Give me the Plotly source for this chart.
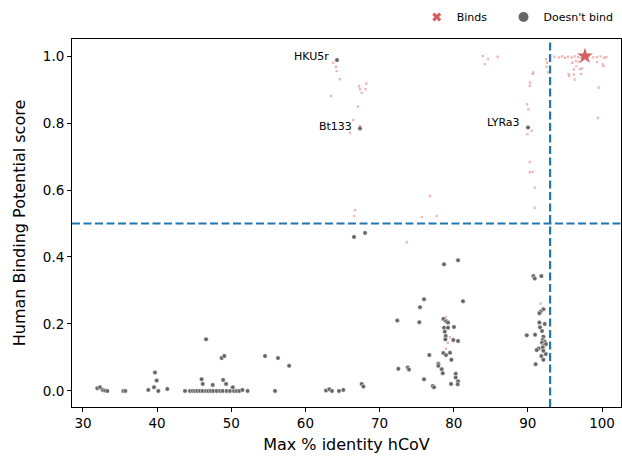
import plotly.graph_objects as go

# values
# "Doesn't bind" points (grey)
nobind_x = [31.93, 32.29, 32.66, 32.97, 33.28, 35.44, 35.71, 38.81, 39.58, 39.71,
            39.94, 40.16, 41.37, 43.76, 44.43, 44.80, 45.11, 45.42, 45.78, 46.14,
            46.59, 46.90, 47.22, 47.57, 48.03, 48.48, 48.84, 49.38, 49.83, 50.37,
            50.73, 51.08, 46.0, 46.15, 46.6, 47.5, 48.9, 49.3, 50.2, 48.7,
            49.06, 51.5, 52.2, 54.55, 55.9, 56.3, 57.8,
            62.78, 63.22, 63.58, 64.53, 65.11, 67.59, 67.81, 72.39, 72.53, 73.8,
            73.97, 75.36, 75.45, 75.99, 75.99, 76.71, 77.17, 77.34, 77.92, 77.92,
            78.38, 78.52, 78.69, 78.6, 78.96, 79.23, 78.69, 79.23, 80.04, 78.79,
            78.92, 78.87, 79.95, 80.58, 78.6, 78.96, 79.5, 79.68, 80.27, 80.27,
            79.64, 80.58, 80.54, 80.58, 81.25,
            90.74, 90.93, 91.82, 92.09, 91.73, 91.55, 91.55, 92.27, 91.64, 91.91,
            89.85, 90.97, 92.09, 92.0, 92.27, 91.91, 92.18, 92.45, 92.0, 91.46,
            91.19, 92.09, 92.41, 91.82, 92.09, 91.05,
            66.55, 68.04, 64.26, 67.36, 90.02]
nobind_y = [0.008, 0.011, 0.003, 0.001, 0.0, 0.0, 0.0, 0.003, 0.011, 0.055,
            0.031, 0.0, 0.006, 0.0, 0.0, 0.0, 0.0, 0.0, 0.0, 0.0,
            0.0, 0.0, 0.0, 0.0, 0.0, 0.0, 0.0, 0.0, 0.0, 0.0,
            0.0, 0.0, 0.035, 0.021, 0.154, 0.018, 0.033, 0.021, 0.011, 0.098,
            0.104, 0.003, 0.0, 0.104, 0.0, 0.098, 0.075,
            0.001, 0.005, 0.0, 0.0, 0.003, 0.021, 0.013, 0.210, 0.066, 0.070,
            0.064, 0.205, 0.250, 0.274, 0.035, 0.107, 0.015, 0.011, 0.081, 0.075,
            0.065, 0.053, 0.378, 0.215, 0.208, 0.204, 0.189, 0.189, 0.191, 0.177,
            0.164, 0.154, 0.152, 0.149, 0.113, 0.107, 0.114, 0.093, 0.051, 0.040,
            0.021, 0.029, 0.020, 0.390, 0.268,
            0.343, 0.336, 0.343, 0.244, 0.237, 0.232, 0.204, 0.200, 0.190, 0.179,
            0.166, 0.168, 0.162, 0.152, 0.147, 0.144, 0.136, 0.140, 0.130, 0.127,
            0.122, 0.120, 0.110, 0.104, 0.093, 0.080,
            0.460, 0.472, 0.988, 0.784, 0.787]

# "Binds" points (red)
bind_x = [63.76, 64.12, 64.22, 64.62, 63.45, 67.23, 68.21, 67.36, 68.12, 67.59,
          67.09, 66.46, 67.36, 66.01,
          66.7, 66.6, 76.8, 77.7, 75.7, 73.65,
          83.9, 84.63, 84.18, 85.92,
          90.74, 90.64, 90.29, 90.25, 89.89, 90.07, 90.52, 89.93, 90.25, 90.25,
          90.64, 90.92, 90.92,
          92.44, 92.54, 92.72, 92.6,
          93.0, 93.6, 94.2, 94.6, 95.0, 95.4, 95.9, 96.3, 96.8, 97.2,
          98.2, 98.8, 99.3, 99.8, 100.3, 100.6,
          95.5, 96.2, 96.3, 96.0, 96.5, 96.95, 97.0, 97.3, 97.2, 96.2,
          96.55, 95.6, 99.3, 100.1, 100.2, 99.55, 99.46,
          91.73, 78.96, 79.5, 79.2, 78.96]
bind_y = [0.980, 0.968, 0.955, 0.931, 0.881, 0.910, 0.918, 0.901, 0.901, 0.890,
          0.849, 0.809, 0.791, 0.771,
          0.540, 0.522, 0.582, 0.522, 0.519, 0.444,
          1.0, 0.991, 0.976, 0.998,
          0.951, 0.946, 0.921, 0.911, 0.856, 0.841, 0.777, 0.767, 0.684, 0.653,
          0.654, 0.607, 0.547,
          0.990, 0.968, 0.952, 0.980,
          0.997, 0.998, 0.996, 0.999, 0.995, 0.998, 0.996, 0.999, 0.997, 0.995,
          0.998, 0.996, 0.997, 0.999, 0.995, 0.997,
          0.946, 0.945, 0.930, 0.980, 0.985, 0.983, 0.961, 0.963, 0.946, 0.960,
          0.970, 0.940, 0.982, 0.976, 0.970, 0.906, 0.815,
          0.261, 0.220, 0.160, 0.144, 0.126]

star_x = [97.7]
star_y = [1.0]

label_names = ["HKU5r", "Bt133", "LYRa3"]
label_x = [64.26, 67.36, 90.02]
label_y = [0.988, 0.784, 0.787]

identity_cut = 93
score_cut = 0.5

RED = "#d65f5f"
GREY = "#666666"

fig = go.Figure()

fig.add_trace(go.Scatter(
    x=nobind_x, y=nobind_y, mode="markers", showlegend=False,
    marker=dict(color=GREY, size=4.5, line=dict(color="white", width=0.5)),
))
fig.add_trace(go.Scatter(
    x=bind_x, y=bind_y, mode="markers", showlegend=False,
    marker=dict(color=RED, size=2.5, symbol="x", opacity=0.5, line=dict(width=0)),
))
fig.add_trace(go.Scatter(
    x=star_x, y=star_y, mode="markers", showlegend=False,
    marker=dict(color=RED, size=12, symbol="star", line=dict(width=0)),
))

# legend-only entries, one legend box each so the spacing can be set
fig.add_trace(go.Scatter(
    x=[None], y=[None], mode="markers", name="Binds", legend="legend",
    marker=dict(color=RED, size=8, symbol="x", line=dict(width=0)),
))
fig.add_trace(go.Scatter(
    x=[None], y=[None], mode="markers", name="Doesn't bind", legend="legend2",
    marker=dict(color=GREY, size=10, line=dict(width=0)),
))

fig.add_vline(x=identity_cut, line=dict(color="#1f77b4", width=2.2, dash="8px,3.5px"))
fig.add_hline(y=score_cut, line=dict(color="#1f77b4", width=2.2, dash="8px,3.5px"))

for name, lx, ly, dy in zip(label_names, label_x, label_y, [4, 2, 5]):
    fig.add_annotation(x=lx, y=ly, text=name, showarrow=False,
                       xanchor="right", yanchor="middle", xshift=-6, yshift=dy,
                       font=dict(size=11, color="black"))

axis_common = dict(showline=True, linecolor="black", linewidth=1, mirror=True,
                   ticks="outside", ticklen=4, tickcolor="black",
                   showgrid=False, zeroline=False, automargin=False,
                   tickfont=dict(size=13.5, color="black"),
                   title_font=dict(size=16, color="black"))

fig.update_xaxes(range=[28.52, 102.56], tickvals=[30, 40, 50, 60, 70, 80, 90, 100],
                 title_text="Max % identity hCoV", title_standoff=8, **axis_common)
fig.update_yaxes(range=[-0.048, 1.051], tickvals=[0, 0.2, 0.4, 0.6, 0.8, 1.0],
                 tickformat=".1f", title_text="Human Binding Potential score",
                 title_standoff=13, **axis_common)

legend_style = dict(orientation="h", y=1.06, yanchor="middle", xanchor="left",
                    font=dict(size=11), bgcolor="rgba(0,0,0,0)")

fig.update_layout(
    width=622, height=458,
    margin=dict(l=72, r=1, t=39, b=51, autoexpand=False),
    plot_bgcolor="white", paper_bgcolor="white",
    font=dict(family="DejaVu Sans", color="black"),
    legend=dict(x=0.628, **legend_style),
    legend2=dict(x=0.786, **legend_style),
)

# drop the default body margin so the 622x458 figure fills the window exactly
fig.write_html("out.html", config={"displayModeBar": False},
               post_script="document.body.style.margin='0';")
